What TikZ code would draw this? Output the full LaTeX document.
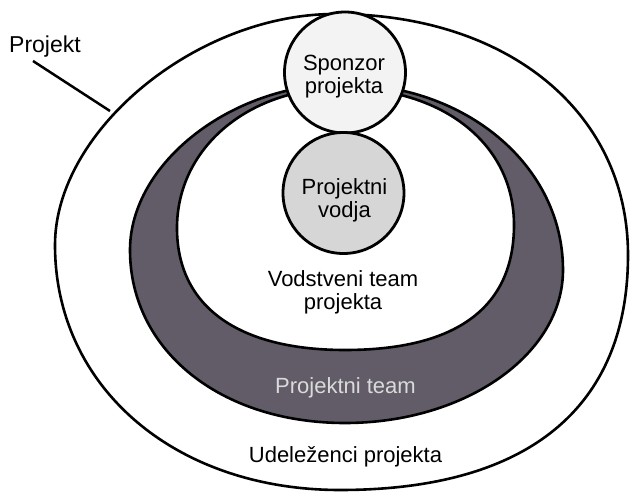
\documentclass[tikz,border=0pt]{standalone}
\usepackage{fontspec}
\setmainfont{Liberation Sans}
\definecolor{teamgray}{RGB}{98,92,104}
\definecolor{leadgray}{RGB}{214,214,214}
\definecolor{sponsorfill}{RGB}{243,243,243}
\definecolor{teamtext}{RGB}{218,218,218}
\begin{document}
\begin{tikzpicture}[x=1pt,y=-1pt,
  outline/.style={draw=black, line width=2.6pt, line join=round},
  person/.style={circle, draw=black, line width=2.8pt, inner sep=0pt, minimum size=121pt},
  lbl/.style={font=\fontsize{22}{22.5}\selectfont, align=center, inner sep=0pt, text=black}]
\useasboundingbox (0,0) rectangle (630,492);
\fill[white] (0,0) rectangle (630,492);

% stakeholders: the project as a whole (four quarter arcs)
\draw[outline, fill=white]
  (335,14) .. controls (508.5,14) and (628,112.8) .. (628,255)
           .. controls (628,407.8) and (527.9,490) .. (340,490)
           .. controls (174.7,490) and (55,387.1) .. (55,245)
           .. controls (55,130.7) and (196.4,14) .. cycle;

% project team ring
\draw[outline, fill=teamgray]
  (343,84) .. controls (466.2,84) and (563,165.8) .. (563,270)
           .. controls (563,354.5) and (465.4,423) .. (345,423)
           .. controls (220.3,423) and (130,350.3) .. (130,250)
           .. controls (130,163.2) and (231.6,84) .. cycle;

% project management team
\draw[outline, fill=white]
  (342,88) .. controls (443.5,88) and (514,144.2) .. (514,225)
           .. controls (514,307.5) and (456.5,350) .. (345,350)
           .. controls (237.5,350) and (177,306.1) .. (177,228)
           .. controls (177,148.2) and (248,88) .. cycle;

% sponsor and project manager
\node[person, fill=sponsorfill] (sponsor) at (345,72.5) {};
\node[person, fill=leadgray] (vodja) at (343.5,193) {};

\node[lbl] (sponsortext) at (344,76.4) {Sponzor\\projekta};
\node[lbl] (vodjatext) at (344.5,200.4) {Projektni\\vodja};
\node[lbl] (vodstvo) at (343,292.5) {Vodstveni team\\projekta};
\node[lbl, anchor=base, text=teamtext] (team) at (345.5,393) {Projektni team};
\node[lbl, anchor=base] (udelezenci) at (345.5,462) {Udeleženci projekta};

% label of the outer boundary with its leader
\node[lbl, anchor=base west, font=\fontsize{23}{24}\selectfont] (projekt) at (9,53) {Projekt};
\coordinate (leadstart) at (33,61);
\coordinate (leadend) at (110,111);
\draw[line width=2.5pt] (leadstart) -- (leadend);
\end{tikzpicture}
\end{document}
